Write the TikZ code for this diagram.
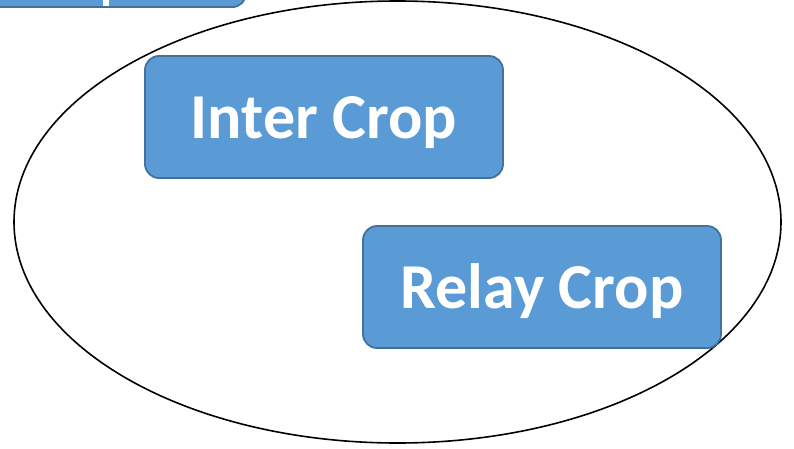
\documentclass[tikz,border=0pt]{standalone}
\usepackage{fontspec}
\setmainfont{Carlito}
\begin{document}
\begin{tikzpicture}[x=1pt,y=1pt,
  cropbox/.style={draw=boxedge, fill=boxfill, line width=1.8pt,
    rounded corners=14pt, minimum width=358pt, minimum height=122pt,
    font=\bfseries\fontsize{64}{64}\selectfont, inner sep=0pt},
  croptext/.style={text=white, font=\bfseries\fontsize{64}{64}\selectfont,
    inner sep=0pt, anchor=base}]
  \definecolor{boxfill}{HTML}{5B9BD5}
  \definecolor{boxedge}{HTML}{41719C}
  \useasboundingbox (0,0) rectangle (794,448);
  \clip (0,0) rectangle (794,448);
  % enclosing ellipse
  \draw[line width=1.6pt] (397.5,226) ellipse [x radius=383.5pt, y radius=221pt];
  % box cut by the top edge
  \node[cropbox, anchor=south east] (top) at (247,440) {};
  \fill[white] (103,448) rectangle (109,442);
  % crop boxes, labels set on a fixed baseline
  \node[cropbox] (inter) at (324,331) {};
  \node[croptext] (intertext) at ([yshift=-21pt]inter.center) {Inter Crop};
  \node[cropbox] (relay) at (542,161) {};
  \node[croptext] (relaytext) at ([yshift=-21pt]relay.center) {Relay Crop};
\end{tikzpicture}
\end{document}
